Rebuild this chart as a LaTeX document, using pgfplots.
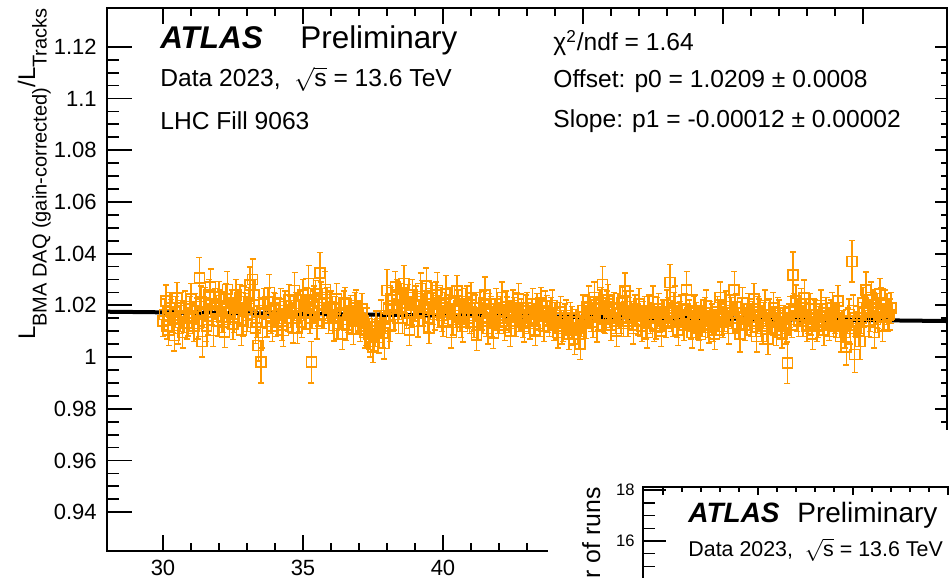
\documentclass[border=0pt]{standalone}
\usepackage{pgfplots}
\pgfplotsset{compat=1.18}
\usepackage{pgfplotstable}
\usepackage{fontspec}
\setmainfont{Liberation Sans}
\definecolor{rootorange}{RGB}{255,153,0}
\newcommand{\fs}[1]{\fontsize{#1}{#1}\selectfont}

\pgfplotstableread[row sep=\\]{
x y e\\
30.0 1.0140 0.006\\ 30.1 1.0218 0.006\\ 30.2 1.0105 0.006\\ 30.3 1.0172 0.005\\ 30.4 1.0083 0.006\\
30.5 1.0228 0.006\\ 30.6 1.0150 0.005\\ 30.7 1.0095 0.006\\ 30.8 1.0196 0.006\\ 30.9 1.0132 0.005\\
31.0 1.0225 0.006\\ 31.1 1.0120 0.006\\ 31.2 1.0178 0.005\\ 31.3 1.0305 0.008\\ 31.4 1.0060 0.006\\
31.5 1.0210 0.006\\ 31.6 1.0145 0.006\\ 31.7 1.0270 0.007\\ 31.8 1.0102 0.006\\ 31.9 1.0188 0.005\\
32.0 1.0232 0.006\\ 32.1 1.0155 0.006\\ 32.2 1.0098 0.006\\ 32.3 1.0262 0.007\\ 32.4 1.0175 0.005\\
32.5 1.0128 0.006\\ 32.6 1.0240 0.006\\ 32.7 1.0192 0.006\\ 32.8 1.0105 0.006\\ 32.9 1.0215 0.006\\
33.0 1.0160 0.006\\ 33.1 1.0278 0.007\\ 33.2 1.0300 0.008\\ 33.3 1.0112 0.006\\ 33.4 1.0045 0.006\\
33.5 0.9980 0.008\\ 33.6 1.0205 0.006\\ 33.7 1.0138 0.006\\ 33.8 1.0250 0.007\\ 33.9 1.0120 0.006\\
34.0 1.0185 0.006\\ 34.1 1.0135 0.005\\ 34.2 1.0205 0.006\\ 34.3 1.0102 0.006\\ 34.4 1.0168 0.005\\
34.5 1.0220 0.006\\ 34.6 1.0150 0.006\\ 34.7 1.0258 0.007\\ 34.8 1.0112 0.006\\ 34.9 1.0195 0.006\\
35.0 1.0240 0.006\\ 35.1 1.0168 0.006\\ 35.2 1.0285 0.007\\ 35.3 0.9980 0.008\\ 35.4 1.0215 0.006\\
35.5 1.0130 0.006\\ 35.6 1.0325 0.008\\ 35.7 1.0205 0.006\\ 35.8 1.0262 0.007\\ 35.9 1.0150 0.006\\
36.0 1.0195 0.006\\ 36.1 1.0122 0.006\\ 36.2 1.0225 0.006\\ 36.3 1.0160 0.005\\ 36.4 1.0090 0.006\\
36.5 1.0210 0.006\\ 36.6 1.0145 0.005\\ 36.7 1.0178 0.006\\ 36.8 1.0108 0.006\\ 36.9 1.0200 0.006\\
37.0 1.0150 0.006\\ 37.1 1.0185 0.006\\ 37.2 1.0095 0.006\\ 37.3 1.0130 0.006\\ 37.4 1.0060 0.006\\
37.5 1.0040 0.006\\ 37.6 1.0118 0.006\\ 37.7 1.0075 0.006\\ 37.8 1.0160 0.006\\ 37.9 1.0052 0.006\\
38.0 1.0258 0.008\\ 38.1 1.0120 0.006\\ 38.2 1.0198 0.006\\ 38.3 1.0272 0.006\\ 38.4 1.0150 0.006\\
38.5 1.0225 0.006\\ 38.6 1.0285 0.007\\ 38.7 1.0170 0.006\\ 38.8 1.0105 0.006\\ 38.9 1.0240 0.006\\
39.0 1.0200 0.006\\ 39.1 1.0138 0.006\\ 39.2 1.0265 0.006\\ 39.3 1.0180 0.006\\ 39.4 1.0275 0.007\\
39.5 1.0112 0.006\\ 39.6 1.0228 0.006\\ 39.7 1.0165 0.006\\ 39.8 1.0258 0.007\\ 39.9 1.0210 0.006\\
40.0 1.0140 0.006\\ 40.1 1.0245 0.007\\ 40.2 1.0180 0.006\\ 40.3 1.0095 0.006\\ 40.4 1.0215 0.006\\
40.5 1.0255 0.006\\ 40.6 1.0160 0.006\\ 40.7 1.0118 0.006\\ 40.8 1.0205 0.006\\ 40.9 1.0172 0.006\\
41.0 1.0228 0.006\\ 41.1 1.0135 0.006\\ 41.2 1.0085 0.006\\ 41.3 1.0190 0.006\\ 41.4 1.0155 0.005\\
41.5 1.0240 0.007\\ 41.6 1.0110 0.006\\ 41.7 1.0175 0.006\\ 41.8 1.0092 0.006\\ 41.9 1.0205 0.006\\
42.0 1.0150 0.006\\ 42.1 1.0230 0.006\\ 42.2 1.0125 0.006\\ 42.3 1.0182 0.005\\ 42.4 1.0100 0.006\\
42.5 1.0200 0.006\\ 42.6 1.0140 0.006\\ 42.7 1.0225 0.006\\ 42.8 1.0165 0.006\\ 42.9 1.0118 0.006\\
43.0 1.0190 0.006\\ 43.1 1.0130 0.006\\ 43.2 1.0205 0.006\\ 43.3 1.0105 0.006\\ 43.4 1.0165 0.006\\
43.5 1.0210 0.006\\ 43.6 1.0120 0.006\\ 43.7 1.0178 0.006\\ 43.8 1.0140 0.006\\ 43.9 1.0200 0.006\\
44.0 1.0150 0.006\\ 44.1 1.0095 0.006\\ 44.2 1.0175 0.006\\ 44.3 1.0120 0.006\\ 44.4 1.0160 0.006\\
44.5 1.0090 0.006\\ 44.6 1.0135 0.006\\ 44.7 1.0070 0.006\\ 44.8 1.0112 0.006\\ 44.9 1.0050 0.006\\
45.0 1.0180 0.006\\ 45.1 1.0132 0.006\\ 45.2 1.0215 0.006\\ 45.3 1.0160 0.006\\ 45.4 1.0230 0.006\\
45.5 1.0118 0.006\\ 45.6 1.0200 0.006\\ 45.7 1.0280 0.007\\ 45.8 1.0150 0.006\\ 45.9 1.0220 0.006\\
46.0 1.0125 0.006\\ 46.1 1.0190 0.006\\ 46.2 1.0100 0.006\\ 46.3 1.0170 0.006\\ 46.4 1.0210 0.006\\
46.5 1.0255 0.007\\ 46.6 1.0140 0.006\\ 46.7 1.0195 0.006\\ 46.8 1.0110 0.006\\ 46.9 1.0165 0.006\\
47.0 1.0205 0.006\\ 47.1 1.0120 0.006\\ 47.2 1.0175 0.006\\ 47.3 1.0095 0.006\\ 47.4 1.0150 0.006\\
47.5 1.0215 0.006\\ 47.6 1.0130 0.006\\ 47.7 1.0185 0.006\\ 47.8 1.0100 0.006\\ 47.9 1.0160 0.006\\
48.0 1.0200 0.006\\ 48.1 1.0288 0.007\\ 48.2 1.0140 0.006\\ 48.3 1.0215 0.006\\ 48.4 1.0105 0.006\\
48.5 1.0180 0.006\\ 48.6 1.0125 0.006\\ 48.7 1.0260 0.007\\ 48.8 1.0160 0.006\\ 48.9 1.0095 0.006\\
49.0 1.0180 0.006\\ 49.1 1.0130 0.006\\ 49.2 1.0088 0.006\\ 49.3 1.0160 0.006\\ 49.4 1.0200 0.006\\
49.5 1.0115 0.006\\ 49.6 1.0145 0.006\\ 49.7 1.0090 0.006\\ 49.8 1.0175 0.006\\ 49.9 1.0230 0.006\\
50.0 1.0135 0.006\\ 50.1 1.0195 0.006\\ 50.2 1.0110 0.006\\ 50.3 1.0170 0.006\\ 50.4 1.0260 0.007\\
50.5 1.0150 0.006\\ 50.6 1.0090 0.007\\ 50.7 1.0210 0.006\\ 50.8 1.0125 0.006\\ 50.9 1.0185 0.006\\
51.0 1.0140 0.006\\ 51.1 1.0225 0.006\\ 51.2 1.0080 0.006\\ 51.3 1.0165 0.006\\ 51.4 1.0110 0.006\\
51.5 1.0200 0.006\\ 51.6 1.0070 0.006\\ 51.7 1.0150 0.006\\ 51.8 1.0190 0.006\\ 51.9 1.0105 0.006\\
52.0 1.0160 0.006\\ 52.1 1.0095 0.006\\ 52.2 1.0130 0.006\\ 52.3 0.9978 0.008\\ 52.4 1.0175 0.006\\
52.5 1.0317 0.009\\ 52.6 1.0218 0.006\\ 52.7 1.0140 0.006\\ 52.8 1.0205 0.006\\ 52.9 1.0228 0.007\\
53.0 1.0120 0.006\\ 53.1 1.0185 0.006\\ 53.2 1.0090 0.006\\ 53.3 1.0160 0.006\\ 53.4 1.0135 0.006\\
53.5 1.0200 0.006\\ 53.6 1.0105 0.006\\ 53.7 1.0170 0.006\\ 53.8 1.0125 0.006\\ 53.9 1.0190 0.006\\
54.0 1.0150 0.006\\ 54.1 1.0217 0.006\\ 54.2 1.0080 0.006\\ 54.3 1.0120 0.006\\ 54.4 1.0040 0.007\\
54.5 1.0165 0.006\\ 54.6 1.0370 0.008\\ 54.7 1.0010 0.007\\ 54.8 1.0135 0.006\\ 54.9 1.0060 0.007\\
55.0 1.0210 0.006\\ 55.1 1.0259 0.007\\ 55.2 1.0140 0.006\\ 55.3 1.0230 0.006\\ 55.4 1.0095 0.006\\
55.5 1.0185 0.006\\ 55.6 1.0245 0.006\\ 55.7 1.0120 0.006\\ 55.8 1.0200 0.006\\ 55.9 1.0160 0.006\\
56.0 1.0190 0.006\\
}\ratiodata

\pgfplotstableread[row sep=\\]{
x y e\\
30.05 1.0165 0.006\\ 30.15 1.0120 0.005\\ 30.25 1.0190 0.006\\ 30.35 1.0145 0.005\\ 30.45 1.0175 0.006\\
30.55 1.0110 0.006\\ 30.65 1.0200 0.005\\ 30.75 1.0155 0.006\\ 30.85 1.0130 0.006\\ 30.95 1.0185 0.005\\
31.05 1.0150 0.006\\ 31.15 1.0195 0.005\\ 31.25 1.0130 0.006\\ 31.35 1.0215 0.006\\ 31.45 1.0165 0.005\\
31.55 1.0120 0.006\\ 31.65 1.0240 0.006\\ 31.75 1.0175 0.005\\ 31.85 1.0205 0.006\\ 31.95 1.0140 0.006\\
32.05 1.0200 0.006\\ 32.15 1.0145 0.005\\ 32.25 1.0225 0.006\\ 32.35 1.0170 0.006\\ 32.45 1.0210 0.005\\
32.55 1.0155 0.006\\ 32.65 1.0190 0.006\\ 32.75 1.0230 0.005\\ 32.85 1.0140 0.006\\ 32.95 1.0185 0.006\\
33.05 1.0210 0.006\\ 33.15 1.0165 0.005\\ 33.25 1.0240 0.006\\ 33.35 1.0135 0.006\\ 33.45 1.0180 0.005\\
33.55 1.0095 0.006\\ 33.65 1.0170 0.006\\ 33.75 1.0215 0.005\\ 33.85 1.0150 0.006\\ 33.95 1.0190 0.006\\
34.05 1.0140 0.006\\ 34.15 1.0180 0.005\\ 34.25 1.0125 0.006\\ 34.35 1.0195 0.006\\ 34.45 1.0150 0.005\\
34.55 1.0175 0.006\\ 34.65 1.0115 0.006\\ 34.75 1.0200 0.005\\ 34.85 1.0160 0.006\\ 34.95 1.0135 0.006\\
35.05 1.0175 0.006\\ 35.15 1.0220 0.005\\ 35.25 1.0150 0.006\\ 35.35 1.0195 0.006\\ 35.45 1.0245 0.005\\
35.55 1.0180 0.006\\ 35.65 1.0230 0.006\\ 35.75 1.0160 0.005\\ 35.85 1.0210 0.006\\ 35.95 1.0190 0.006\\
36.05 1.0150 0.006\\ 36.15 1.0185 0.005\\ 36.25 1.0130 0.006\\ 36.35 1.0170 0.006\\ 36.45 1.0205 0.005\\
36.55 1.0125 0.006\\ 36.65 1.0165 0.006\\ 36.75 1.0140 0.005\\ 36.85 1.0190 0.006\\ 36.95 1.0155 0.006\\
37.05 1.0120 0.006\\ 37.15 1.0140 0.005\\ 37.25 1.0105 0.006\\ 37.35 1.0090 0.006\\ 37.45 1.0115 0.005\\
37.55 1.0085 0.006\\ 37.65 1.0100 0.006\\ 37.75 1.0130 0.005\\ 37.85 1.0095 0.006\\ 37.95 1.0150 0.006\\
38.05 1.0185 0.006\\ 38.15 1.0220 0.005\\ 38.25 1.0165 0.006\\ 38.35 1.0240 0.006\\ 38.45 1.0195 0.005\\
38.55 1.0150 0.006\\ 38.65 1.0210 0.006\\ 38.75 1.0230 0.005\\ 38.85 1.0175 0.006\\ 38.95 1.0200 0.006\\
39.05 1.0215 0.006\\ 39.15 1.0170 0.005\\ 39.25 1.0235 0.006\\ 39.35 1.0195 0.006\\ 39.45 1.0150 0.005\\
39.55 1.0205 0.006\\ 39.65 1.0185 0.006\\ 39.75 1.0240 0.005\\ 39.85 1.0175 0.006\\ 39.95 1.0160 0.006\\
40.05 1.0190 0.006\\ 40.15 1.0165 0.005\\ 40.25 1.0210 0.006\\ 40.35 1.0145 0.006\\ 40.45 1.0185 0.005\\
40.55 1.0200 0.006\\ 40.65 1.0135 0.006\\ 40.75 1.0175 0.005\\ 40.85 1.0215 0.006\\ 40.95 1.0150 0.006\\
41.05 1.0160 0.006\\ 41.15 1.0190 0.005\\ 41.25 1.0125 0.006\\ 41.35 1.0170 0.006\\ 41.45 1.0205 0.005\\
41.55 1.0140 0.006\\ 41.65 1.0185 0.006\\ 41.75 1.0130 0.005\\ 41.85 1.0165 0.006\\ 41.95 1.0150 0.006\\
42.05 1.0175 0.006\\ 42.15 1.0140 0.005\\ 42.25 1.0195 0.006\\ 42.35 1.0155 0.006\\ 42.45 1.0130 0.005\\
42.55 1.0170 0.006\\ 42.65 1.0190 0.006\\ 42.75 1.0150 0.005\\ 42.85 1.0135 0.006\\ 42.95 1.0180 0.006\\
43.05 1.0150 0.006\\ 43.15 1.0175 0.005\\ 43.25 1.0140 0.006\\ 43.35 1.0185 0.006\\ 43.45 1.0130 0.005\\
43.55 1.0160 0.006\\ 43.65 1.0195 0.006\\ 43.75 1.0145 0.005\\ 43.85 1.0170 0.006\\ 43.95 1.0125 0.006\\
44.05 1.0130 0.006\\ 44.15 1.0160 0.005\\ 44.25 1.0110 0.006\\ 44.35 1.0145 0.006\\ 44.45 1.0120 0.005\\
44.55 1.0150 0.006\\ 44.65 1.0105 0.006\\ 44.75 1.0135 0.005\\ 44.85 1.0090 0.006\\ 44.95 1.0140 0.006\\
45.05 1.0155 0.006\\ 45.15 1.0190 0.005\\ 45.25 1.0170 0.006\\ 45.35 1.0135 0.006\\ 45.45 1.0185 0.005\\
45.55 1.0165 0.006\\ 45.65 1.0210 0.006\\ 45.75 1.0145 0.005\\ 45.85 1.0195 0.006\\ 45.95 1.0175 0.006\\
46.05 1.0165 0.006\\ 46.15 1.0140 0.005\\ 46.25 1.0185 0.006\\ 46.35 1.0150 0.006\\ 46.45 1.0130 0.005\\
46.55 1.0195 0.006\\ 46.65 1.0170 0.006\\ 46.75 1.0155 0.005\\ 46.85 1.0180 0.006\\ 46.95 1.0145 0.006\\
47.05 1.0140 0.006\\ 47.15 1.0165 0.005\\ 47.25 1.0130 0.006\\ 47.35 1.0180 0.006\\ 47.45 1.0155 0.005\\
47.55 1.0120 0.006\\ 47.65 1.0170 0.006\\ 47.75 1.0145 0.005\\ 47.85 1.0160 0.006\\ 47.95 1.0135 0.006\\
48.05 1.0170 0.006\\ 48.15 1.0150 0.005\\ 48.25 1.0190 0.006\\ 48.35 1.0135 0.006\\ 48.45 1.0165 0.005\\
48.55 1.0145 0.006\\ 48.65 1.0185 0.006\\ 48.75 1.0155 0.005\\ 48.85 1.0130 0.006\\ 48.95 1.0175 0.006\\
49.05 1.0150 0.006\\ 49.15 1.0115 0.005\\ 49.25 1.0140 0.006\\ 49.35 1.0170 0.006\\ 49.45 1.0125 0.005\\
49.55 1.0155 0.006\\ 49.65 1.0120 0.006\\ 49.75 1.0135 0.005\\ 49.85 1.0160 0.006\\ 49.95 1.0145 0.006\\
50.05 1.0160 0.006\\ 50.15 1.0140 0.005\\ 50.25 1.0180 0.006\\ 50.35 1.0150 0.006\\ 50.45 1.0195 0.005\\
50.55 1.0130 0.006\\ 50.65 1.0170 0.006\\ 50.75 1.0155 0.005\\ 50.85 1.0145 0.006\\ 50.95 1.0165 0.006\\
51.05 1.0155 0.006\\ 51.15 1.0130 0.005\\ 51.25 1.0175 0.006\\ 51.35 1.0140 0.006\\ 51.45 1.0160 0.005\\
51.55 1.0120 0.006\\ 51.65 1.0165 0.006\\ 51.75 1.0145 0.005\\ 51.85 1.0135 0.006\\ 51.95 1.0170 0.006\\
52.05 1.0130 0.006\\ 52.15 1.0150 0.005\\ 52.25 1.0110 0.006\\ 52.35 1.0145 0.006\\ 52.45 1.0125 0.005\\
52.55 1.0185 0.006\\ 52.65 1.0160 0.006\\ 52.75 1.0175 0.005\\ 52.85 1.0140 0.006\\ 52.95 1.0165 0.006\\
53.05 1.0150 0.006\\ 53.15 1.0135 0.005\\ 53.25 1.0165 0.006\\ 53.35 1.0120 0.006\\ 53.45 1.0155 0.005\\
53.55 1.0145 0.006\\ 53.65 1.0170 0.006\\ 53.75 1.0130 0.005\\ 53.85 1.0160 0.006\\ 53.95 1.0140 0.006\\
54.05 1.0135 0.006\\ 54.15 1.0160 0.005\\ 54.25 1.0120 0.006\\ 54.35 1.0095 0.006\\ 54.45 1.0140 0.005\\
54.55 1.0110 0.006\\ 54.65 1.0180 0.006\\ 54.75 1.0125 0.005\\ 54.85 1.0100 0.006\\ 54.95 1.0150 0.006\\
55.05 1.0175 0.006\\ 55.15 1.0190 0.005\\ 55.25 1.0160 0.006\\ 55.35 1.0200 0.006\\ 55.45 1.0145 0.005\\
55.55 1.0170 0.006\\ 55.65 1.0210 0.006\\ 55.75 1.0155 0.005\\ 55.85 1.0185 0.006\\ 55.95 1.0165 0.006\\
}\ratiodatab

\pgfplotstableread[row sep=\\]{
x y\\
28 1.01754\\
58 1.01394\\
}\fitline

\begin{document}
\begin{tikzpicture}[x=1pt,y=1pt]
\useasboundingbox (0,0) rectangle (474.5,289);
\clip (0,0) rectangle (474.5,289);

% main axis
\begin{axis}[
  at={(53.5pt,13.5pt)}, anchor=south west,
  width=420pt, height=271.5pt, scale only axis,
  xmin=28, xmax=58, ymin=0.925, ymax=1.135,
  xtick={30,35,40,45,50,55}, minor x tick num=4,
  ytick={0.94,0.96,0.98,1,1.02,1.04,1.06,1.08,1.1,1.12}, minor y tick num=3,
  xtick pos=both, ytick pos=left,
  tick align=inside,
  axis line style={line width=1pt},
  every tick/.style={line width=0.9pt, black},
  every major x tick/.append style={/pgfplots/major tick length=8pt},
  every minor x tick/.append style={/pgfplots/minor tick length=4pt},
  every major y tick/.append style={/pgfplots/major tick length=12.5pt},
  every minor y tick/.append style={/pgfplots/minor tick length=6pt},
  /pgf/number format/assume math mode=true,
  yticklabel style={/pgf/number format/fixed, /pgf/number format/precision=2,
     font=\fs{11}, anchor=east, inner sep=0pt, xshift=-5pt},
  xticklabel style={font=\fs{11}, anchor=north, inner sep=0pt, yshift=-4.5pt},
  clip=true,
]
\addplot[only marks, rootorange, mark=square, mark size=2.5pt,
  mark options={rootorange, line width=0.8pt},
  error bars/.cd, y dir=both, y explicit,
  error bar style={line width=0.7pt, rootorange},
  error mark options={rootorange, mark size=1.5pt, line width=0.7pt, rotate=90}]
  table[x=x, y=y, y error=e] {\ratiodatab};
\addplot[black, line width=2pt] table[x=x, y=y] {\fitline};
\addplot[only marks, rootorange, mark=square, mark size=2.5pt,
  mark options={rootorange, line width=0.8pt},
  error bars/.cd, y dir=both, y explicit,
  error bar style={line width=0.7pt, rootorange},
  error mark options={rootorange, mark size=1.5pt, line width=0.7pt, rotate=90}]
  table[x=x, y=y, y error=e] {\ratiodata};
\end{axis}

% right-hand mirrored ticks (shorter)
\begin{axis}[
  at={(53.5pt,13.5pt)}, anchor=south west,
  width=420pt, height=271.5pt, scale only axis,
  xmin=28, xmax=58, ymin=0.925, ymax=1.135,
  xtick=\empty,
  ytick={0.94,0.96,0.98,1,1.02,1.04,1.06,1.08,1.1,1.12}, minor y tick num=3,
  ytick pos=right, yticklabels={},
  tick align=inside,
  axis line style={draw=none},
  every tick/.style={line width=0.9pt, black},
  major tick length=6pt, minor tick length=3pt,
]
\end{axis}

% text in main panel
\node[anchor=base west, inner sep=0pt] at (80,264.5) {\fs{15.7}\bfseries\itshape ATLAS};
\node[anchor=base west, inner sep=0pt] at (150,264.5) {\fs{15.7}Preliminary};
\node[anchor=base west, inner sep=0pt] at (80,245.5) {\fs{12.3}Data 2023,\ \ $\sqrt{\mbox{s}}$ = 13.6 TeV};
\node[anchor=base west, inner sep=0pt] at (80,224) {\fs{12.3}LHC Fill 9063};
\node[anchor=base west, inner sep=0pt] at (276.5,263.5) {\fs{12.3}χ\textsuperscript{2}/ndf = 1.64};
\node[anchor=base west, inner sep=0pt] at (276.5,245) {\fs{12.3}Offset: p0 = 1.0209 ± 0.0008};
\node[anchor=base west, inner sep=0pt] at (276.5,225) {\fs{12.3}Slope: p1 = -0.00012 ± 0.00002};

% y-axis title
\node[rotate=90, anchor=base east, inner sep=0pt] at (17.5,285)
  {\fs{12}L\raisebox{-5.75pt}{\fs{10}BMA DAQ (gain-corrected)}/L\raisebox{-5.75pt}{\fs{10}Tracks}};

% inset panel (partially visible)
\fill[white] (274,0) rectangle (474.5,74);
\begin{axis}[
  at={(321.5pt,45.5pt)}, anchor=north west,
  width=200pt, height=231pt, scale only axis,
  xmin=-1.05, xmax=20, ymin=0, ymax=18.12,
  xtick={0,5,10,15,20}, minor x tick num=4, xticklabels={},
  ytick={0,2,4,6,8,10,12,14,16,18}, minor y tick num=3,
  tick align=inside,
  axis line style={line width=0.7pt},
  every tick/.style={line width=0.7pt, black},
  every major x tick/.append style={/pgfplots/major tick length=4pt},
  every minor x tick/.append style={/pgfplots/minor tick length=2.5pt},
  every major y tick/.append style={/pgfplots/major tick length=11.5pt},
  every minor y tick/.append style={/pgfplots/minor tick length=6pt},
  /pgf/number format/assume math mode=true,
  yticklabel style={font=\fs{8.3}, anchor=east, inner sep=0pt, xshift=-4pt},
]
\end{axis}
\node[rotate=90, anchor=base east, inner sep=0pt] at (300,45.5) {\fs{12.4}Number of runs};
\node[anchor=base west, inner sep=0pt] at (344,27.5) {\fs{14}\bfseries\itshape ATLAS};
\node[anchor=base west, inner sep=0pt] at (398.5,27.5) {\fs{14}Preliminary};
\node[anchor=base west, inner sep=0pt] at (344,10.5) {\fs{10.7}Data 2023,\ \ $\sqrt{\mbox{s}}$ = 13.6 TeV};
\end{tikzpicture}
\end{document}
